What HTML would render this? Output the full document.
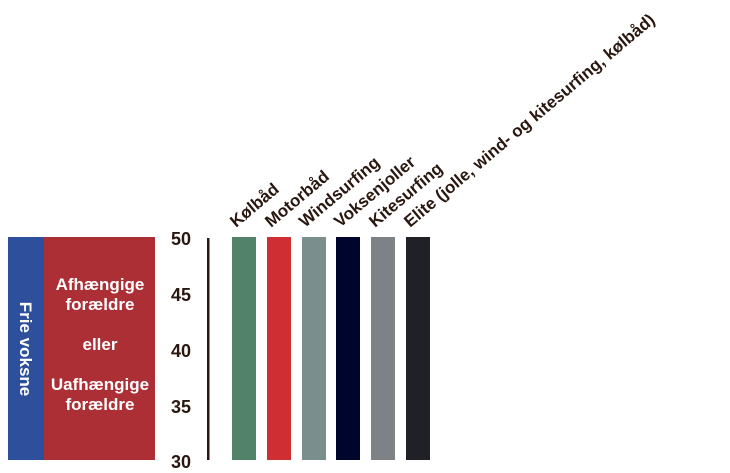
<!DOCTYPE html>
<html><head><meta charset="utf-8"><style>
html,body{margin:0;padding:0;background:#fff;}
svg{display:block;}
text{font-family:"Liberation Sans",sans-serif;font-weight:bold;}
</style></head><body>
<svg width="730" height="473" xmlns="http://www.w3.org/2000/svg">
<rect x="8" y="237" width="36" height="223" fill="#2e4f9b"/>
<rect x="44" y="237" width="111" height="223" fill="#ac2f36"/>
<text x="0" y="0" transform="translate(20,349) rotate(90)" text-anchor="middle" fill="#fff" font-size="17">Frie voksne</text>
<g fill="#fff" font-size="17" text-anchor="middle">
<text x="100" y="290">Afhængige</text>
<text x="100" y="310">forældre</text>
<text x="100" y="350">eller</text>
<text x="100" y="390">Uafhængige</text>
<text x="100" y="410">forældre</text>
</g>
<g fill="#2a1810" font-size="18" text-anchor="middle">
<text x="181" y="245">50</text>
<text x="181" y="301">45</text>
<text x="181" y="357">40</text>
<text x="181" y="413">35</text>
<text x="181" y="468">30</text>
</g>
<rect x="207" y="238" width="2.5" height="222" fill="#2a1810"/>
<rect x="232" y="237" width="24" height="223" fill="#52826a"/>
<rect x="267" y="237" width="24" height="223" fill="#cf2e33"/>
<rect x="302" y="237" width="24" height="223" fill="#7a8f8d"/>
<rect x="336" y="237" width="24" height="223" fill="#00052e"/>
<rect x="371" y="237" width="24" height="223" fill="#7f8284"/>
<rect x="406" y="237" width="24" height="223" fill="#202126"/>
<g fill="#2a1810" font-size="17">
<text transform="translate(236,228) rotate(-40)">Kølbåd</text>
<text transform="translate(271,228) rotate(-40)">Motorbåd</text>
<text transform="translate(305,228) rotate(-40)">Windsurfing</text>
<text transform="translate(340,228) rotate(-40)">Voksenjoller</text>
<text transform="translate(375,228) rotate(-40)">Kitesurfing</text>
<text transform="translate(410,228) rotate(-40)">Elite (jolle, wind- og kitesurfing, kølbåd)</text>
</g>
</svg>
</body></html>
